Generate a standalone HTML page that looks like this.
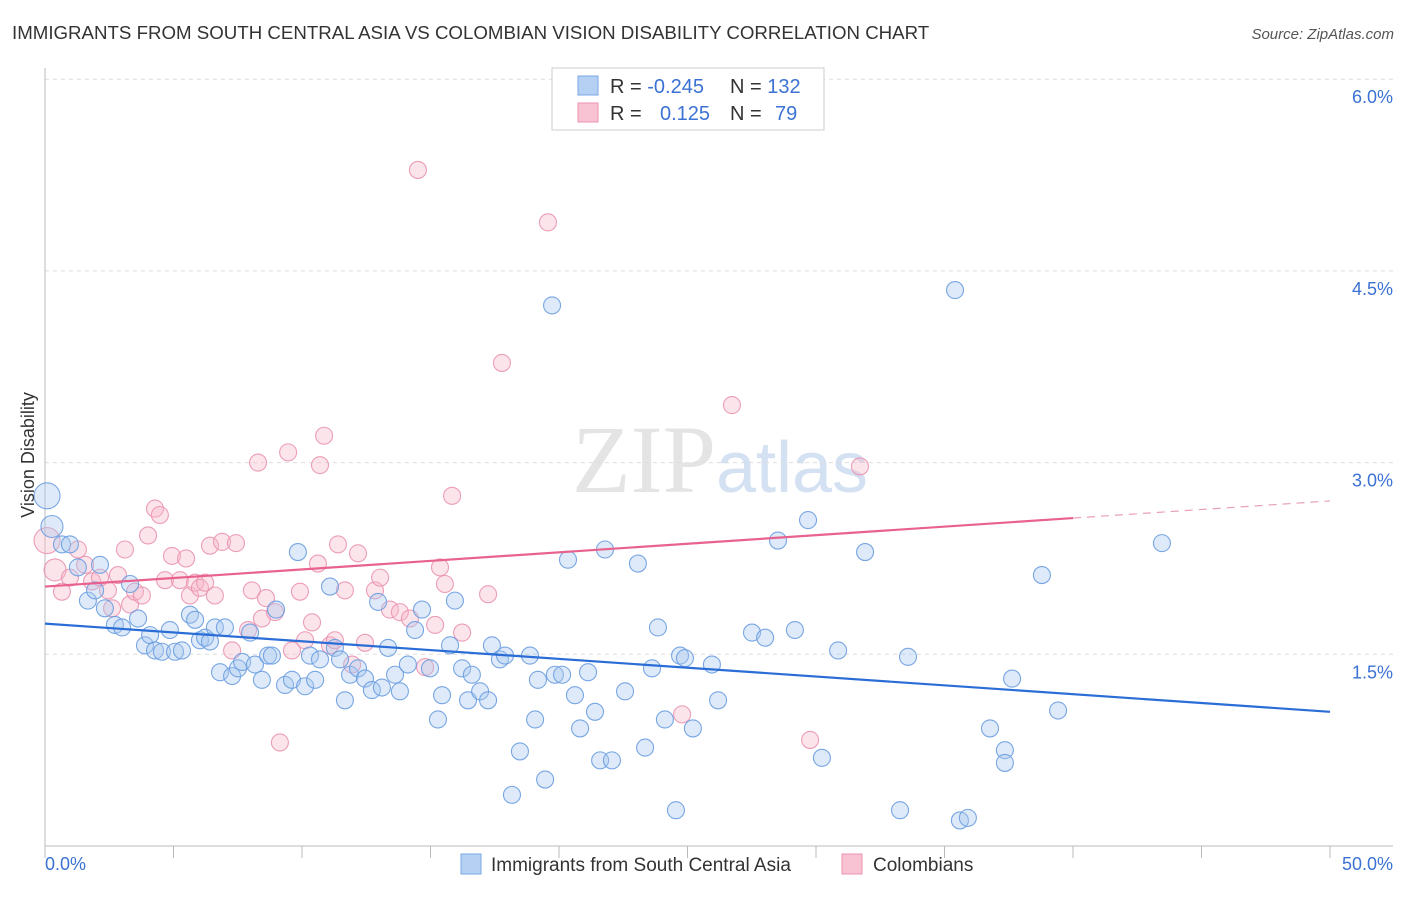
<!DOCTYPE html>
<html><head><meta charset="utf-8"><style>
body{margin:0;background:#fff;font-family:"Liberation Sans",sans-serif;}
svg text{font-family:"Liberation Sans",sans-serif;}
</style></head><body>
<svg id="chart" width="1406" height="892" viewBox="0 0 1406 892" xmlns="http://www.w3.org/2000/svg">
<text x="12" y="39" font-size="18.7" fill="#333">IMMIGRANTS FROM SOUTH CENTRAL ASIA VS COLOMBIAN VISION DISABILITY CORRELATION CHART</text>
<text x="1394" y="39" font-size="15" fill="#555" font-style="italic" text-anchor="end">Source: ZipAtlas.com</text>
<text x="720" y="492" font-size="96" fill="#e4e4e4" text-anchor="middle" font-family="Liberation Serif"><tspan font-family="Liberation Serif">ZIP</tspan><tspan fill="#d4e1f3" font-family="Liberation Sans" font-size="72">atlas</tspan></text>
<g id="grid"></g>
<g id="axes"></g>
<g id="marks"></g>
<text x="34" y="455" font-size="18" fill="#333" text-anchor="middle" transform="rotate(-90 34 455)">Vision Disability</text>
<g>
<rect x="552" y="68" width="272" height="62" fill="#fff" stroke="#ccc"/>
<rect x="578" y="76" width="20" height="19" fill="#b5d0f3" stroke="#7aa7e4"/>
<rect x="578" y="103" width="20" height="19" fill="#f8c3d3" stroke="#ee93b0"/>
<text x="610" y="93" font-size="20" fill="#333">R = <tspan fill="#3b72d3">-0.245</tspan></text>
<text x="730" y="93" font-size="20" fill="#333">N = <tspan fill="#3b72d3">132</tspan></text>
<text x="610" y="120" font-size="20" fill="#333">R = <tspan fill="#3b72d3" x="660">0.125</tspan></text>
<text x="730" y="120" font-size="20" fill="#333">N = <tspan fill="#3b72d3" x="775">79</tspan></text>
</g>
<g>
<rect x="461" y="854" width="20" height="20" fill="#b5d0f3" stroke="#7aa7e4"/>
<text x="491" y="871" font-size="19" fill="#333">Immigrants from South Central Asia</text>
<rect x="842" y="854" width="20" height="20" fill="#f8c3d3" stroke="#ee93b0"/>
<text x="873" y="871" font-size="19" fill="#333">Colombians</text>
</g>
</svg>
<script>
const blueX=[0.08,0.27,0.66,0.97,1.28,1.67,1.95,2.14,2.33,2.72,3.0,3.31,3.62,3.89,4.09,4.28,4.55,4.86,5.06,5.33,5.64,5.84,6.03,6.23,6.42,6.61,6.81,7.0,7.28,7.51,7.67,7.98,8.17,8.44,8.68,8.83,8.99,9.34,9.61,9.84,10.12,10.31,10.51,10.7,11.09,11.28,11.48,11.67,11.87,12.18,12.45,12.72,12.96,13.11,13.35,13.62,13.81,14.12,14.4,14.67,14.98,15.29,15.45,15.76,15.95,16.23,16.46,16.61,16.93,17.24,17.39,17.7,17.9,18.17,18.48,18.87,19.07,19.18,19.46,19.73,19.84,20.12,20.35,20.62,20.82,21.13,21.4,21.6,21.79,22.06,22.57,23.07,23.35,23.62,23.85,24.12,24.55,24.71,24.9,25.21,25.95,26.19,27.51,28.02,28.52,29.18,29.69,30.23,30.86,31.91,33.27,33.58,35.41,35.6,35.91,36.77,37.35,37.35,37.63,38.79,39.42,43.46];
const blueY=[2.74,2.50,2.36,2.36,2.18,1.92,2.00,2.20,1.86,1.73,1.71,2.05,1.78,1.57,1.65,1.53,1.52,1.69,1.52,1.53,1.81,1.77,1.61,1.63,1.60,1.71,1.36,1.71,1.33,1.39,1.44,1.67,1.42,1.30,1.49,1.49,1.85,1.26,1.30,2.30,1.25,1.49,1.30,1.46,2.03,1.55,1.46,1.14,1.34,1.39,1.31,1.22,1.91,1.24,1.55,1.34,1.21,1.42,1.69,1.85,1.39,0.99,1.18,1.57,1.92,1.39,1.14,1.34,1.21,1.14,1.57,1.46,1.49,0.40,0.74,1.49,0.99,1.30,0.52,4.23,1.34,1.34,2.24,1.18,0.92,1.36,1.05,0.67,2.32,0.67,1.21,2.21,0.77,1.39,1.71,0.99,0.28,1.49,1.47,0.92,1.42,1.14,1.67,1.63,2.39,1.69,2.55,0.69,1.53,2.30,0.28,1.48,4.35,0.20,0.22,0.92,0.75,0.65,1.31,2.12,1.06,2.37];
const pinkX=[0.08,0.39,0.66,0.97,1.28,1.56,1.83,2.14,2.45,2.61,2.84,3.11,3.31,3.50,3.77,4.01,4.28,4.47,4.67,4.94,5.25,5.49,5.64,5.84,6.03,6.23,6.42,6.61,6.89,7.28,7.43,7.90,8.05,8.29,8.44,8.60,8.95,9.14,9.46,9.61,9.92,10.12,10.39,10.62,10.70,10.86,11.09,11.28,11.40,11.67,11.95,12.18,12.45,12.84,13.04,13.42,13.81,14.2,14.51,14.79,15.18,15.37,15.56,15.84,16.23,17.24,17.78,19.57,24.79,26.73,29.77,31.71];
const pinkY=[2.39,2.16,1.99,2.10,2.32,2.20,2.07,2.10,2.00,1.86,2.12,2.32,1.89,1.99,1.96,2.43,2.64,2.59,2.08,2.27,2.08,2.25,1.96,2.06,2.02,2.06,2.35,1.96,2.38,1.53,2.37,1.69,2.00,3.00,1.78,1.94,1.83,0.81,3.08,1.53,1.99,1.61,1.75,2.21,2.98,3.21,1.57,1.61,2.36,2.00,1.42,2.29,1.59,2.00,2.10,1.85,1.83,1.78,5.29,1.40,1.73,2.18,2.05,2.74,1.67,1.97,3.78,4.88,1.03,3.45,0.83,2.97];
const blueTrend=[1.74,1.05];   // y at x=0 and x=50
const pinkTrend=[2.03,2.70];   // y at x=0 and x=50
const pinkSolidEnd=40;
const yTicks=[1.5,3.0,4.5,6.0];
const yTickLabels=["1.5%","3.0%","4.5%","6.0%"];
const xTicks=[0,5,10,15,20,25,30,35,40,45,50];

const NS="http://www.w3.org/2000/svg";
const X0=45,X1=1330,Y0=846,PXPY=127.8;
const sx=v=>X0+(X1-X0)*v/50;
const sy=v=>Y0-v*PXPY;
function mk(tag,attrs,parent){const e=document.createElementNS(NS,tag);for(const k in attrs)e.setAttribute(k,attrs[k]);parent.appendChild(e);return e;}
const grid=document.getElementById('grid'),axes=document.getElementById('axes'),marks=document.getElementById('marks');
yTicks.forEach((t,i)=>{
  const l=mk('line',{x1:X0,x2:1393,y1:sy(t),y2:sy(t),stroke:'#ddd','stroke-dasharray':'4 4'},grid);
  
  
  const tx=mk('text',{x:1393,y:sy(t)+24,'font-size':18,fill:'#3b72d3','text-anchor':'end'},axes);
  tx.textContent=yTickLabels[i];
  
  
});
const al=mk('line',{x1:X0,x2:X0,y1:68,y2:Y0,stroke:'#bbb'},axes);


const bl=mk('line',{x1:X0,x2:1393,y1:Y0,y2:Y0,stroke:'#bbb'},axes);


xTicks.forEach(t=>{
  const l=mk('line',{x1:sx(t),x2:sx(t),y1:Y0,y2:Y0+12,stroke:'#bbb'},axes);
  
  
});
const xl0=mk('text',{x:45,y:870,'font-size':18,fill:'#3b72d3'},axes);xl0.textContent='0.0%';


const xl1=mk('text',{x:1393,y:870,'font-size':18,fill:'#3b72d3','text-anchor':'end'},axes);xl1.textContent='50.0%';



function pts(xs,ys,fill,stroke,name){
  xs.forEach((x,i)=>{
    const r=(x<0.2)?13:(x<0.5?11:8.5);
    const c=mk('circle',{cx:sx(x),cy:sy(ys[i]),r:r,fill:fill,'fill-opacity':0.38,stroke:stroke,'stroke-width':1.1,'stroke-opacity':0.9},marks);
    
    
  });
}
pts(pinkX,pinkY,'#f6b7ca','#ea93b0','colombian-point');
pts(blueX,blueY,'#a9c8f0','#6a9de0','south-central-asia-point');
const bt=mk('line',{x1:sx(0),y1:sy(blueTrend[0]),x2:sx(50),y2:sy(blueTrend[1]),stroke:'#2b6dd6','stroke-width':2.2},marks);


const pe=pinkTrend[0]+(pinkTrend[1]-pinkTrend[0])*pinkSolidEnd/50;
const pt=mk('line',{x1:sx(0),y1:sy(pinkTrend[0]),x2:sx(pinkSolidEnd),y2:sy(pe),stroke:'#e8628f','stroke-width':2.2},marks);


const pd=mk('line',{x1:sx(pinkSolidEnd),y1:sy(pe),x2:sx(50),y2:sy(pinkTrend[1]),stroke:'#e8a0b8','stroke-width':1.2,'stroke-dasharray':'8 6'},marks);


</script>
</body></html>
